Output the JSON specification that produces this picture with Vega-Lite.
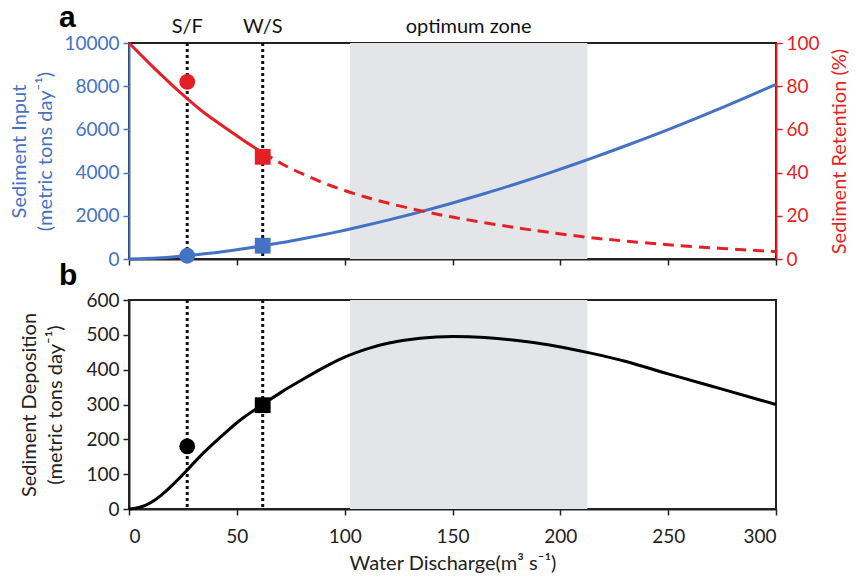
{
  "$schema": "https://vega.github.io/schema/vega-lite/v6.json",
  "background": "white",
  "padding": {"left": 8, "top": 2, "right": 5, "bottom": 5},
  "spacing": -10,
  "config": {
    "font": "Lato",
    "view": {"stroke": "#222222", "strokeWidth": 2},
    "axis": {
      "grid": false,
      "labelFont": "Lato",
      "titleFont": "Lato",
      "labelFontSize": 19,
      "titleFontSize": 20,
      "titleFontWeight": "normal",
      "tickSize": 6,
      "tickWidth": 1.5,
      "domainWidth": 2,
      "domainColor": "#222222",
      "tickColor": "#222222",
      "labelColor": "#222222",
      "titleColor": "#222222",
      "labelPadding": 4,
      "labelOverlap": false,
      "format": "d"
    }
  },
  "datasets": {
    "curves": [
      {"q": 0, "input": 0, "ret": 100, "dep": 0},
      {"q": 5, "input": 10, "ret": 95, "dep": 5},
      {"q": 10, "input": 31, "ret": 90, "dep": 18},
      {"q": 15, "input": 59, "ret": 85.2, "dep": 40},
      {"q": 20, "input": 95, "ret": 80.5, "dep": 68},
      {"q": 27, "input": 156, "ret": 74.2, "dep": 112},
      {"q": 35, "input": 238, "ret": 67.6, "dep": 164},
      {"q": 45, "input": 360, "ret": 60.5, "dep": 221},
      {"q": 53, "input": 470, "ret": 55, "dep": 262},
      {"q": 62, "input": 610, "ret": 49.2, "dep": 300},
      {"q": 71, "input": 760, "ret": 44, "dep": 337},
      {"q": 80, "input": 925, "ret": 39.6, "dep": 370},
      {"q": 90, "input": 1122, "ret": 35.3, "dep": 405},
      {"q": 100, "input": 1334, "ret": 31.7, "dep": 436},
      {"q": 110, "input": 1560, "ret": 28.6, "dep": 459},
      {"q": 120, "input": 1798, "ret": 25.9, "dep": 476},
      {"q": 135, "input": 2183, "ret": 22.4, "dep": 490},
      {"q": 150, "input": 2594, "ret": 19.4, "dep": 495},
      {"q": 165, "input": 3032, "ret": 16.8, "dep": 492},
      {"q": 180, "input": 3497, "ret": 14.4, "dep": 484},
      {"q": 195, "input": 3990, "ret": 12.3, "dep": 471},
      {"q": 213, "input": 4613, "ret": 10, "dep": 449},
      {"q": 230, "input": 5232, "ret": 8.3, "dep": 424},
      {"q": 250, "input": 5991, "ret": 6.6, "dep": 388},
      {"q": 275, "input": 7007, "ret": 4.9, "dep": 344},
      {"q": 300, "input": 8085, "ret": 3.4, "dep": 300}
    ],
    "markers": [
      {"q": 27, "input": 150, "ret": 82, "dep": 180, "shape": "circle"},
      {"q": 62, "input": 615, "ret": 47.3, "dep": 298, "shape": "square"}
    ],
    "zone": [{"q": 102.5, "q2": 212.5}],
    "labels": [
      {"q": 27, "input": 10740, "label": "S/F"},
      {"q": 62, "input": 10740, "label": "W/S"},
      {"q": 157.5, "input": 10740, "label": "optimum zone"}
    ]
  },
  "vconcat": [
    {
      "width": 647,
      "height": 216,
      "title": {"text": "a", "anchor": "start", "frame": "group", "dx": -70, "font": "Liberation Sans", "fontSize": 30, "fontWeight": "bold", "color": "#000000", "offset": -16},
      "encoding": {
        "x": {"field": "q", "type": "quantitative", "scale": {"domain": [0, 300], "nice": false},
              "axis": {"values": [0, 50, 100, 150, 200, 250, 300], "labels": false, "title": null}}
      },
      "layer": [
        {
          "layer": [
            {"data": {"name": "zone"}, "mark": {"type": "rect", "color": "#E3E5E8"},
             "encoding": {"x2": {"field": "q2"}}},
            {"data": {"name": "markers"}, "mark": {"type": "rule", "color": "#111111", "strokeWidth": 3, "strokeDash": [3, 3]}, "encoding": {}},
            {"data": {"name": "curves"}, "mark": {"type": "line", "color": "#4472C4", "strokeWidth": 3, "interpolate": "natural"},
             "encoding": {"y": {"field": "input", "type": "quantitative", "scale": {"domain": [0, 10000], "nice": false},
               "axis": {"values": [0, 2000, 4000, 6000, 8000, 10000], "labelOverlap": false, "title": ["Sediment  Input", "(metric tons day⁻¹)"], "titleLineHeight": 26, "titlePadding": 8,
                 "domainColor": "#4472C4", "tickColor": "#4472C4", "labelColor": "#4472C4", "titleColor": "#4472C4"}}}},
            {"data": {"name": "markers"}, "mark": {"type": "point", "filled": true, "opacity": 1, "color": "#4472C4"},
             "encoding": {"y": {"field": "input", "type": "quantitative",
               "axis": {"values": [0, 2000, 4000, 6000, 8000, 10000], "labelOverlap": false, "title": ["Sediment  Input", "(metric tons day⁻¹)"], "titleLineHeight": 26, "titlePadding": 8,
                 "domainColor": "#4472C4", "tickColor": "#4472C4", "labelColor": "#4472C4", "titleColor": "#4472C4"}},
               "shape": {"field": "shape", "type": "nominal", "scale": {"domain": ["circle", "square"], "range": ["circle", "square"]}, "legend": null},
               "size": {"value": 250}}},
            {"data": {"name": "labels"}, "mark": {"type": "text", "fontSize": 20, "font": "Lato", "color": "#111111", "baseline": "middle", "clip": false},
             "encoding": {"y": {"field": "input", "type": "quantitative",
               "axis": {"values": [0, 2000, 4000, 6000, 8000, 10000], "labelOverlap": false, "title": ["Sediment  Input", "(metric tons day⁻¹)"], "titleLineHeight": 26, "titlePadding": 8,
                 "domainColor": "#4472C4", "tickColor": "#4472C4", "labelColor": "#4472C4", "titleColor": "#4472C4"}},
               "text": {"field": "label"}}}
          ]
        },
        {
          "data": {"name": "curves"},
          "layer": [
            {"transform": [{"filter": "datum.q <= 62"}],
             "mark": {"type": "line", "color": "#E41F26", "strokeWidth": 3, "interpolate": "natural"},
             "encoding": {"y": {"field": "ret", "type": "quantitative", "scale": {"domain": [0, 100], "nice": false},
               "axis": {"orient": "right", "values": [0, 20, 40, 60, 80, 100], "labelOverlap": false, "title": "Sediment  Retention  (%)", "titleAngle": 270, "titlePadding": 30,
                 "domainColor": "#E41F26", "tickColor": "#E41F26", "labelColor": "#E41F26", "titleColor": "#E41F26"}}}},
            {"transform": [{"filter": "datum.q >= 62"}],
             "mark": {"type": "line", "color": "#E41F26", "strokeWidth": 3, "strokeDash": [11, 7], "interpolate": "natural"},
             "encoding": {"y": {"field": "ret", "type": "quantitative",
               "axis": {"orient": "right", "values": [0, 20, 40, 60, 80, 100], "labelOverlap": false, "title": "Sediment  Retention  (%)", "titleAngle": 270, "titlePadding": 30,
                 "domainColor": "#E41F26", "tickColor": "#E41F26", "labelColor": "#E41F26", "titleColor": "#E41F26"}}}},
            {"data": {"name": "markers"}, "mark": {"type": "point", "filled": true, "opacity": 1, "color": "#E41F26"},
             "encoding": {"y": {"field": "ret", "type": "quantitative",
               "axis": {"orient": "right", "values": [0, 20, 40, 60, 80, 100], "labelOverlap": false, "title": "Sediment  Retention  (%)", "titleAngle": 270, "titlePadding": 30,
                 "domainColor": "#E41F26", "tickColor": "#E41F26", "labelColor": "#E41F26", "titleColor": "#E41F26"}},
               "shape": {"field": "shape", "type": "nominal", "scale": {"domain": ["circle", "square"], "range": ["circle", "square"]}, "legend": null},
               "size": {"value": 250}}}
          ]
        }
      ],
      "resolve": {"scale": {"y": "independent"}}
    },
    {
      "width": 647,
      "height": 209,
      "title": {"text": "b", "anchor": "start", "frame": "group", "dx": -70, "font": "Liberation Sans", "fontSize": 30, "fontWeight": "bold", "color": "#000000", "offset": 0},
      "encoding": {
        "x": {"field": "q", "type": "quantitative", "scale": {"domain": [0, 300], "nice": false},
              "axis": {"values": [0, 50, 100, 150, 200, 250, 300], "labelOverlap": false, "labelPadding": 12, "title": "Water Discharge(m³ s⁻¹)", "titlePadding": 7}}
      },
      "layer": [
        {"data": {"name": "zone"}, "mark": {"type": "rect", "color": "#E3E5E8"},
         "encoding": {"x2": {"field": "q2"}}},
        {"data": {"name": "markers"}, "mark": {"type": "rule", "color": "#111111", "strokeWidth": 3, "strokeDash": [3, 3]}, "encoding": {}},
        {"data": {"name": "curves"}, "mark": {"type": "line", "color": "#000000", "strokeWidth": 3, "interpolate": "natural"},
         "encoding": {"y": {"field": "dep", "type": "quantitative", "scale": {"domain": [0, 600], "nice": false},
           "axis": {"values": [0, 100, 200, 300, 400, 500, 600], "labelOverlap": false, "title": ["Sediment  Deposition", "(metric tons day⁻¹)"], "titleLineHeight": 26, "titlePadding": 20}}}},
        {"data": {"name": "markers"}, "mark": {"type": "point", "filled": true, "opacity": 1, "color": "#000000"},
         "encoding": {"y": {"field": "dep", "type": "quantitative",
           "axis": {"values": [0, 100, 200, 300, 400, 500, 600], "labelOverlap": false, "title": ["Sediment  Deposition", "(metric tons day⁻¹)"], "titleLineHeight": 26, "titlePadding": 20}},
           "shape": {"field": "shape", "type": "nominal", "scale": {"domain": ["circle", "square"], "range": ["circle", "square"]}, "legend": null},
           "size": {"value": 250}}}
      ]
    }
  ]
}
